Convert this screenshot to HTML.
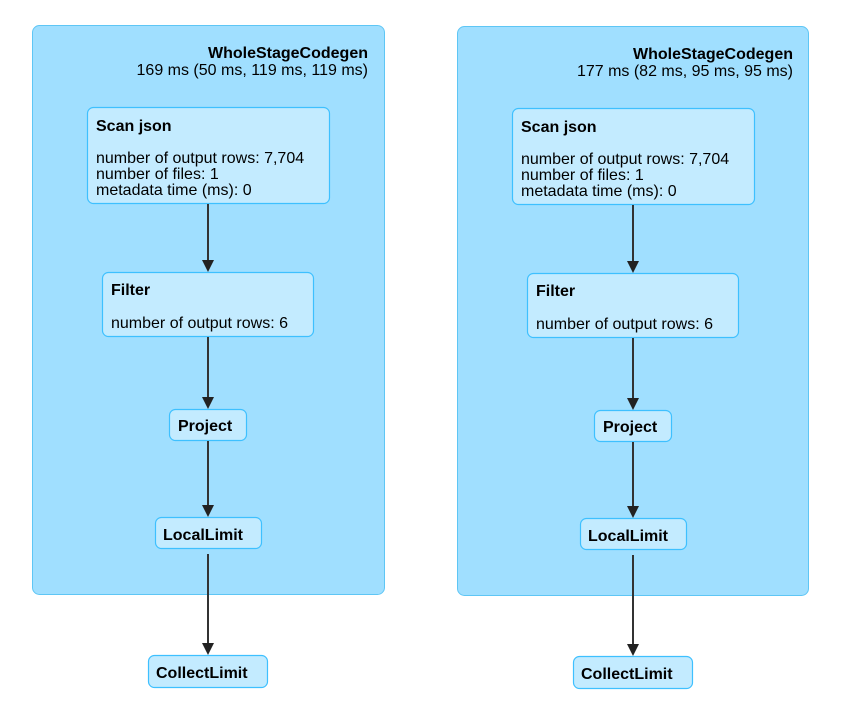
<!DOCTYPE html>
<html><head><meta charset="utf-8"><style>
html,body{margin:0;padding:0;background:#fff;width:855px;height:713px;overflow:hidden}
svg{display:block;font-family:"Liberation Sans",Arial,sans-serif}
.cl{fill:#A0DFFF;stroke:#5EC6F5;stroke-width:1}
.n{fill:#C3EBFF;stroke:#3EC0FF;stroke-width:1.2}
.b{font-weight:bold;font-size:16px;fill:#000}
.t{font-size:16px;fill:#000}
.e{stroke:#333;stroke-width:2;fill:none}
.a{fill:#222}
</style></head><body>
<svg width="855" height="713" viewBox="0 0 855 713">
<g>
<rect class="cl" x="32.5" y="25.5" width="352" height="569" rx="7" ry="7"/>
<text class="b" x="368" y="58" text-anchor="end">WholeStageCodegen</text>
<text class="t" x="368" y="75" text-anchor="end">169 ms (50 ms, 119 ms, 119 ms)</text>
<rect class="n" x="87.5" y="107.5" width="242" height="96" rx="6" ry="6"/>
<text class="b" x="96" y="131">Scan json</text>
<text class="t" x="96" y="163">number of output rows: 7,704</text>
<text class="t" x="96" y="179">number of files: 1</text>
<text class="t" x="96" y="195">metadata time (ms): 0</text>
<rect class="n" x="102.5" y="272.5" width="211" height="64" rx="6" ry="6"/>
<text class="b" x="111" y="295">Filter</text>
<text class="t" x="111" y="328">number of output rows: 6</text>
<rect class="n" x="169.5" y="409.5" width="77" height="31" rx="6" ry="6"/>
<text class="b" x="178" y="431">Project</text>
<rect class="n" x="155.5" y="517.5" width="106" height="31" rx="6" ry="6"/>
<text class="b" x="163" y="540">LocalLimit</text>
<rect class="n" x="148.5" y="655.5" width="119" height="32" rx="6" ry="6"/>
<text class="b" x="156" y="678">CollectLimit</text>
<line class="e" x1="208" y1="204" x2="208" y2="262"/>
<polygon class="a" points="202,260 214,260 208,272"/>
<line class="e" x1="208" y1="337" x2="208" y2="399"/>
<polygon class="a" points="202,397 214,397 208,409"/>
<line class="e" x1="208" y1="441" x2="208" y2="507"/>
<polygon class="a" points="202,505 214,505 208,517"/>
<line class="e" x1="208" y1="554" x2="208" y2="645"/>
<polygon class="a" points="202,643 214,643 208,655"/>
</g>
<g transform="translate(425,1)">
<rect class="cl" x="32.5" y="25.5" width="351" height="569" rx="7" ry="7"/>
<text class="b" x="368" y="58" text-anchor="end">WholeStageCodegen</text>
<text class="t" x="368" y="75" text-anchor="end">177 ms (82 ms, 95 ms, 95 ms)</text>
<rect class="n" x="87.5" y="107.5" width="242" height="96" rx="6" ry="6"/>
<text class="b" x="96" y="131">Scan json</text>
<text class="t" x="96" y="163">number of output rows: 7,704</text>
<text class="t" x="96" y="179">number of files: 1</text>
<text class="t" x="96" y="195">metadata time (ms): 0</text>
<rect class="n" x="102.5" y="272.5" width="211" height="64" rx="6" ry="6"/>
<text class="b" x="111" y="295">Filter</text>
<text class="t" x="111" y="328">number of output rows: 6</text>
<rect class="n" x="169.5" y="409.5" width="77" height="31" rx="6" ry="6"/>
<text class="b" x="178" y="431">Project</text>
<rect class="n" x="155.5" y="517.5" width="106" height="31" rx="6" ry="6"/>
<text class="b" x="163" y="540">LocalLimit</text>
<rect class="n" x="148.5" y="655.5" width="119" height="32" rx="6" ry="6"/>
<text class="b" x="156" y="678">CollectLimit</text>
<line class="e" x1="208" y1="204" x2="208" y2="262"/>
<polygon class="a" points="202,260 214,260 208,272"/>
<line class="e" x1="208" y1="337" x2="208" y2="399"/>
<polygon class="a" points="202,397 214,397 208,409"/>
<line class="e" x1="208" y1="441" x2="208" y2="507"/>
<polygon class="a" points="202,505 214,505 208,517"/>
<line class="e" x1="208" y1="554" x2="208" y2="645"/>
<polygon class="a" points="202,643 214,643 208,655"/>
</g>
</svg>
</body></html>
